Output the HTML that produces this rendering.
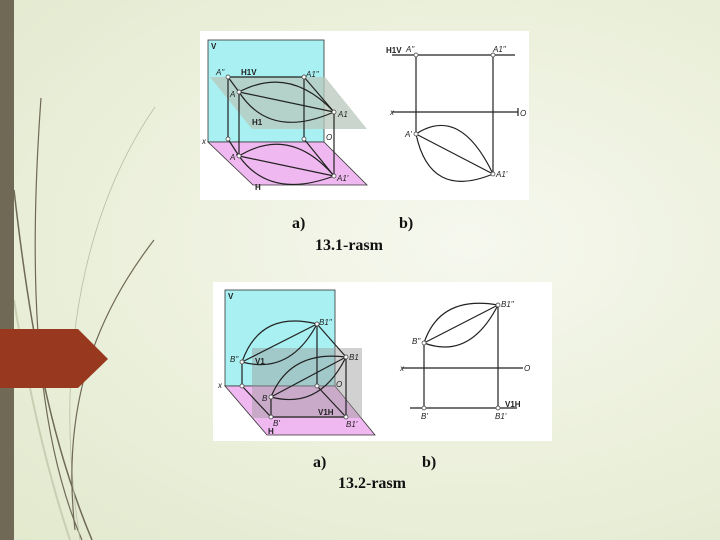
<!DOCTYPE html>
<html><head><meta charset="utf-8"><style>
html,body{margin:0;padding:0}
body{width:720px;height:540px;overflow:hidden;position:relative;font-family:"Liberation Sans",sans-serif;
background:radial-gradient(ellipse at 65% 45%,#f6f8ef 0%,#eef2e0 40%,#e2e9cd 100%);}
svg{position:absolute;left:0;top:0}
.cap{font-family:"Liberation Serif",serif;font-weight:bold;font-size:16px;fill:#111}
.lb{font-family:"Liberation Sans",sans-serif;font-style:italic;font-size:8px;fill:#222}
.lbb{font-family:"Liberation Sans",sans-serif;font-weight:bold;font-size:8px;fill:#222}
</style></head><body>
<svg width="720" height="540" viewBox="0 0 720 540">
<g fill="none">
<path d="M41,98 C30,250 30,420 82,540" stroke="#6f6955" stroke-width="1.2"/>
<path d="M14,190 C30,330 50,440 92,540" stroke="#6f6955" stroke-width="1.5"/>
<path d="M155,107 C90,200 50,350 80,540" stroke="#b9bda3" stroke-width="0.8"/>
<path d="M154,240 C100,310 60,400 75,530" stroke="#6f6955" stroke-width="1.2"/>
<path d="M14,300 C30,400 50,480 70,540" stroke="#c9ceb3" stroke-width="2"/>
</g>
<rect x="0" y="0" width="14" height="540" fill="#6f6955"/>
<path d="M0,329 L78,329 L108,359 L78,388 L0,388z" fill="#98381e"/>

<g>
<rect x="200" y="31" width="329" height="169" fill="#fff"/>
<rect x="208" y="40" width="116" height="102" fill="#a8f0f2" stroke="#333" stroke-width="0.8"/>
<path d="M208,142 L324,142 L367,185 L253,185z" fill="#f0b8f0" stroke="#333" stroke-width="0.8"/>
<path d="M210,77 L325,77 L367,129 L252,129z" fill="#b8c8bc" fill-opacity="0.75"/>
<g stroke="#222" stroke-width="1.2" fill="none">
<line x1="228" y1="77" x2="304" y2="77"/>
<line x1="228" y1="77" x2="228" y2="139"/><line x1="304" y1="77" x2="304" y2="139"/>
<line x1="239" y1="92" x2="239" y2="156"/><line x1="334" y1="112" x2="334" y2="176"/>
<line x1="228" y1="77" x2="239" y2="92"/><line x1="304" y1="77" x2="334" y2="112"/>
<line x1="228" y1="139" x2="239" y2="156"/><line x1="304" y1="139" x2="334" y2="176"/>
<path d="M239,92 Q290,65 334,112"/><path d="M239,92 Q270,140 334,112"/><line x1="239" y1="92" x2="334" y2="112"/>
<path d="M239,156 Q290,125 334,176"/><path d="M239,156 Q270,200 334,176"/><line x1="239" y1="156" x2="334" y2="176"/>
</g>
<g fill="#fff" stroke="#333" stroke-width="0.7">
<circle cx="228" cy="77" r="2"/><circle cx="304" cy="77" r="2"/><circle cx="239" cy="92" r="2"/><circle cx="334" cy="112" r="2"/>
<circle cx="228" cy="139" r="2"/><circle cx="304" cy="139" r="2"/><circle cx="239" cy="156" r="2"/><circle cx="334" cy="176" r="2"/>
</g>
<text class="lbb" x="211" y="49">V</text><text class="lb" x="216" y="75">A"</text><text class="lbb" x="241" y="75">H1V</text>
<text class="lb" x="306" y="77">A1"</text><text class="lb" x="230" y="97">A</text><text class="lb" x="338" y="117">A1</text>
<text class="lbb" x="252" y="125">H1</text><text class="lb" x="202" y="144">x</text><text class="lb" x="326" y="140">O</text>
<text class="lb" x="230" y="160">A'</text><text class="lb" x="337" y="181">A1'</text><text class="lbb" x="255" y="190">H</text>
<g stroke="#222" stroke-width="1.2" fill="none">
<line x1="392" y1="55" x2="515" y2="55"/><line x1="392" y1="112" x2="518" y2="112"/><line x1="518" y1="108" x2="518" y2="116"/>
<line x1="416" y1="55" x2="416" y2="134"/><line x1="493" y1="55" x2="493" y2="174"/>
<path d="M416,134 Q460,105 493,174"/><path d="M416,134 Q430,200 493,174"/><line x1="416" y1="134" x2="493" y2="174"/>
</g>
<g fill="#fff" stroke="#333" stroke-width="0.7"><circle cx="416" cy="55" r="2"/><circle cx="493" cy="55" r="2"/><circle cx="416" cy="134" r="2"/><circle cx="493" cy="174" r="2"/></g>
<text class="lbb" x="386" y="53">H1V</text><text class="lb" x="406" y="52">A"</text><text class="lb" x="493" y="52">A1"</text>
<text class="lb" x="390" y="115">x</text><text class="lb" x="520" y="116">O</text><text class="lb" x="405" y="137">A'</text><text class="lb" x="496" y="177">A1'</text>
</g>
<text class="cap" x="292" y="228">a)</text>
<text class="cap" x="399" y="228">b)</text>
<text class="cap" x="315" y="250">13.1-rasm</text>

<g>
<rect x="213" y="282" width="339" height="159" fill="#fff"/>
<rect x="225" y="290" width="110" height="96" fill="#a8f0f2" stroke="#333" stroke-width="0.8"/>
<path d="M225,386 L335,386 L375,435 L267,435z" fill="#f0b8f0" stroke="#333" stroke-width="0.8"/>
<rect x="252" y="348" width="110" height="70" fill="#9a9a9a" fill-opacity="0.45"/>
<g stroke="#222" stroke-width="1.2" fill="none">
<line x1="242" y1="362" x2="242" y2="386"/><line x1="317" y1="324" x2="317" y2="386"/>
<line x1="271" y1="397" x2="271" y2="417"/><line x1="346" y1="357" x2="346" y2="417"/>
<line x1="242" y1="386" x2="271" y2="417"/><line x1="317" y1="386" x2="346" y2="417"/><line x1="317" y1="324" x2="346" y2="357"/>
<line x1="271" y1="417" x2="346" y2="417"/>
<path d="M242,362 Q260,310 317,324"/><path d="M242,362 Q290,375 317,324"/><line x1="242" y1="362" x2="317" y2="324"/>
<path d="M271,397 Q290,350 346,357"/><path d="M271,397 Q320,410 346,357"/><line x1="271" y1="397" x2="346" y2="357"/>
<line x1="402" y1="368" x2="523" y2="368"/><line x1="410" y1="408" x2="517" y2="408"/>
<line x1="424" y1="343" x2="424" y2="408"/><line x1="498" y1="305" x2="498" y2="408"/>
<path d="M424,343 Q440,295 498,305"/><path d="M424,343 Q470,360 498,305"/><line x1="424" y1="343" x2="498" y2="305"/>
</g>
<g fill="#fff" stroke="#333" stroke-width="0.7">
<circle cx="242" cy="362" r="2"/><circle cx="317" cy="324" r="2"/><circle cx="346" cy="357" r="2"/><circle cx="242" cy="386" r="2"/><circle cx="317" cy="386" r="2"/>
<circle cx="271" cy="397" r="2"/><circle cx="271" cy="417" r="2"/><circle cx="346" cy="417" r="2"/>
<circle cx="424" cy="343" r="2"/><circle cx="498" cy="305" r="2"/><circle cx="424" cy="408" r="2"/><circle cx="498" cy="408" r="2"/>
</g>
<text class="lbb" x="228" y="299">V</text><text class="lb" x="319" y="325">B1"</text><text class="lb" x="230" y="362">B"</text>
<text class="lbb" x="255" y="364">V1</text><text class="lb" x="349" y="360">B1</text><text class="lb" x="218" y="388">x</text><text class="lb" x="336" y="387">O</text>
<text class="lb" x="262" y="401">B</text><text class="lbb" x="318" y="415">V1H</text><text class="lb" x="273" y="426">B'</text><text class="lb" x="346" y="427">B1'</text><text class="lbb" x="268" y="434">H</text>
<text class="lb" x="501" y="307">B1"</text><text class="lb" x="412" y="344">B"</text><text class="lb" x="400" y="371">x</text><text class="lb" x="524" y="371">O</text>
<text class="lbb" x="505" y="407">V1H</text><text class="lb" x="421" y="419">B'</text><text class="lb" x="495" y="419">B1'</text>
</g>
<text class="cap" x="313" y="467">a)</text>
<text class="cap" x="422" y="467">b)</text>
<text class="cap" x="338" y="488">13.2-rasm</text>
</svg>
</body></html>
